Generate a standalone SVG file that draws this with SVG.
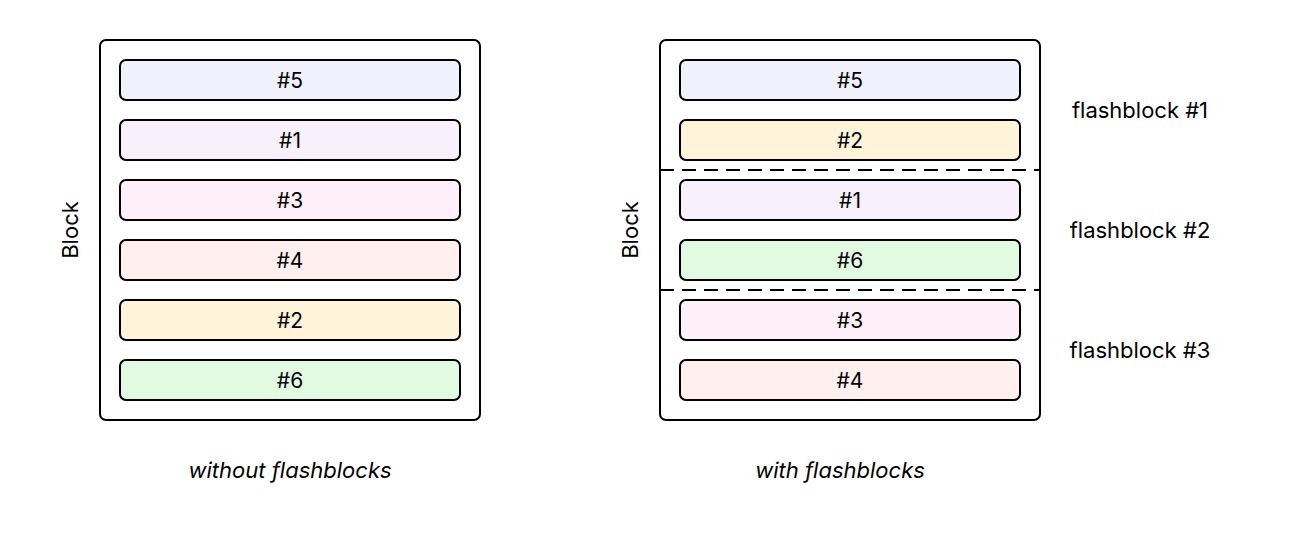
<svg xmlns="http://www.w3.org/2000/svg" width="1300" height="540" viewBox="0 0 1300 540">
<style>
.outer{fill:#fff;stroke:#000;stroke-width:2}
.item{stroke:#000;stroke-width:2}
.t{font-family:Inter,"Liberation Sans",sans-serif;font-size:22px;fill:#000;text-anchor:middle;dominant-baseline:central}
.n{font-size:21px}
.cap{font-style:italic}
.c5{fill:#f1f1fd}.c1{fill:#f9f0fd}.c3{fill:#fdf0f9}.c4{fill:#fff0ef}.c2{fill:#fff3da}.c6{fill:#e2f9e2}
.dash{stroke:#000;stroke-width:2;stroke-dasharray:14 8;fill:none}
</style>
<rect width="1300" height="540" fill="#fff"/>
<g id="left-block">
<rect class="outer" x="100" y="40" width="380" height="380" rx="6"/>
<text class="t" transform="translate(70,230) rotate(-90)">Block</text>
</g>
<g id="l5"><rect class="item c5" x="120" y="60" width="340" height="40" rx="6"/><text class="t n" x="290" y="80">#5</text></g>
<g id="l1"><rect class="item c1" x="120" y="120" width="340" height="40" rx="6"/><text class="t n" x="290" y="140">#1</text></g>
<g id="l3"><rect class="item c3" x="120" y="180" width="340" height="40" rx="6"/><text class="t n" x="290" y="200">#3</text></g>
<g id="l4"><rect class="item c4" x="120" y="240" width="340" height="40" rx="6"/><text class="t n" x="290" y="260">#4</text></g>
<g id="l2"><rect class="item c2" x="120" y="300" width="340" height="40" rx="6"/><text class="t n" x="290" y="320">#2</text></g>
<g id="l6"><rect class="item c6" x="120" y="360" width="340" height="40" rx="6"/><text class="t n" x="290" y="380">#6</text></g>
<text class="t cap" x="290" y="470">without flashblocks</text>
<g id="right-block">
<rect class="outer" x="660" y="40" width="380" height="380" rx="6"/>
<text class="t" transform="translate(630,230) rotate(-90)">Block</text>
</g>
<g id="r5"><rect class="item c5" x="680" y="60" width="340" height="40" rx="6"/><text class="t n" x="850" y="80">#5</text></g>
<g id="r2"><rect class="item c2" x="680" y="120" width="340" height="40" rx="6"/><text class="t n" x="850" y="140">#2</text></g>
<g id="r1"><rect class="item c1" x="680" y="180" width="340" height="40" rx="6"/><text class="t n" x="850" y="200">#1</text></g>
<g id="r6"><rect class="item c6" x="680" y="240" width="340" height="40" rx="6"/><text class="t n" x="850" y="260">#6</text></g>
<g id="r3"><rect class="item c3" x="680" y="300" width="340" height="40" rx="6"/><text class="t n" x="850" y="320">#3</text></g>
<g id="r4"><rect class="item c4" x="680" y="360" width="340" height="40" rx="6"/><text class="t n" x="850" y="380">#4</text></g>
<g id="connectors">
<line class="dash" x1="660" y1="170" x2="1040" y2="170"/>
<line class="dash" x1="660" y1="290" x2="1040" y2="290"/>
</g>
<g id="fb1"><text class="t" x="1140" y="110">flashblock #1</text></g>
<g id="fb2"><text class="t" x="1140" y="230">flashblock #2</text></g>
<g id="fb3"><text class="t" x="1140" y="350">flashblock #3</text></g>
<text class="t cap" x="840" y="470">with flashblocks</text>
</svg>
